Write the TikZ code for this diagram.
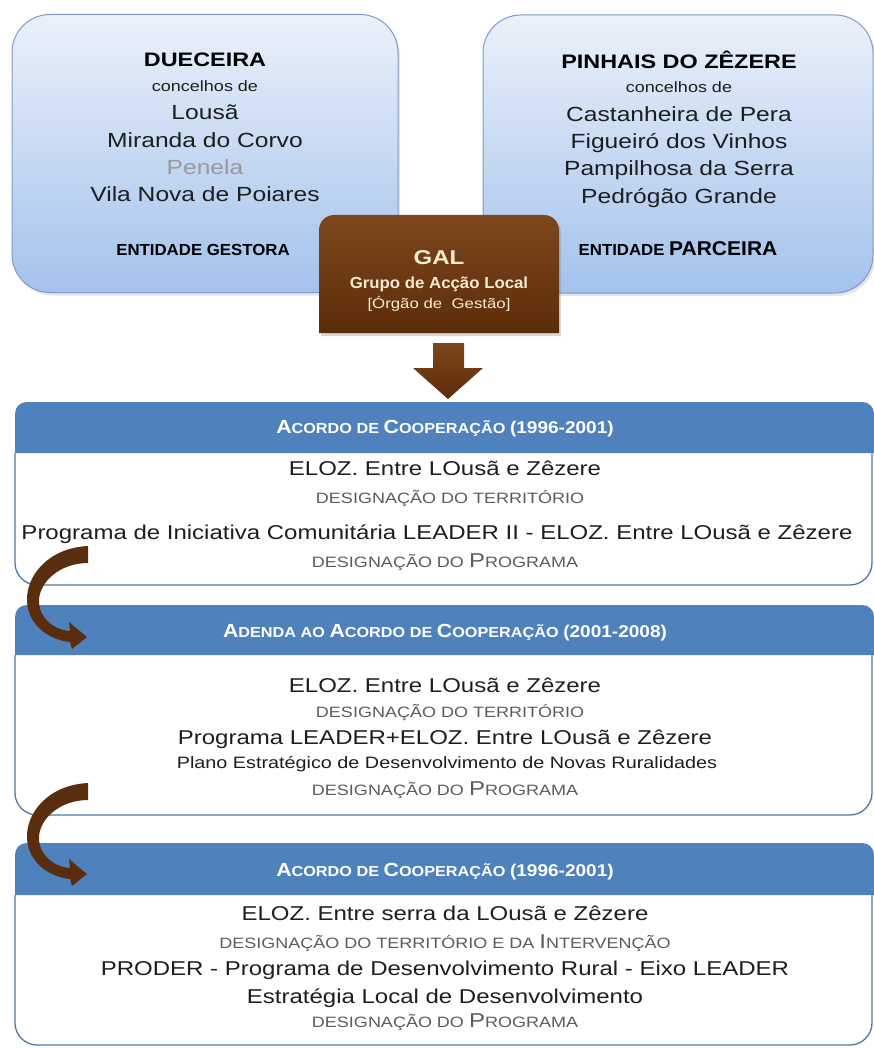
\documentclass[tikz,border=0pt]{standalone}
\usepackage{fontspec}
\setmainfont{Liberation Sans}
\newfontfamily\wide[FakeStretch=1.2]{Liberation Sans}
\newfontfamily\hdr[FakeStretch=1.05]{Liberation Sans}
\newfontfamily\hdrw[FakeStretch=1.12]{Liberation Sans}
\usetikzlibrary{shadows}
\definecolor{bandblue}{HTML}{4F81BD}
\definecolor{bodyline}{HTML}{4E78A8}
\definecolor{boxline}{HTML}{7F9DC4}
\definecolor{boxtop}{HTML}{EBF1FA}
\definecolor{boxbot}{HTML}{A3C2EC}
\definecolor{galtop}{HTML}{7E471D}
\definecolor{galbot}{HTML}{5C2C0A}
\definecolor{galtext}{HTML}{F6ECD2}
\definecolor{arrbrown}{HTML}{5A2D0E}
\definecolor{maintext}{HTML}{1E1E1E}
\definecolor{graytext}{HTML}{5C5C5C}
\definecolor{lighttext}{HTML}{9A9A9A}
\newcommand\fs[2]{{\fontsize{#1}{#1}\selectfont #2}}
\newcommand\hB[1]{\fs{19}{#1}}
\newcommand\hS[1]{\fs{14.5}{#1}}
\newcommand\gB[1]{\fs{20}{#1}}
\newcommand\gS[1]{\fs{15}{#1}}
\newcommand\bandshape[3]{%
  \path[fill=white,draw=bodyline,line width=1.3pt] (15,#2) -- (15,#3-22) .. controls (15,#3-10) and (25,#3) .. (37,#3) -- (850,#3) .. controls (862,#3) and (872,#3-10) .. (872,#3-22) -- (872,#2);
  \fill[bandblue] (15,#2) -- (15,#1+12) .. controls (15,#1+5) and (20,#1) .. (27,#1) -- (862,#1) .. controls (869,#1) and (874,#1+5) .. (874,#1+12) -- (874,#2) -- cycle;}
\begin{document}
\begin{tikzpicture}[x=1pt,y=-1pt,
  txt/.style={anchor=base,inner sep=0pt,font=\wide,text=maintext},
  gtxt/.style={anchor=base,inner sep=0pt,font=\wide,text=graytext},
  htxt/.style={anchor=base,inner sep=0pt,font=\hdrw\bfseries,text=white},
  topbox/.style={draw=boxline,line width=1pt,rounded corners=38pt,top color=boxtop,bottom color=boxbot,
     drop shadow={shadow xshift=2pt,shadow yshift=-3pt,opacity=0.2}},
  curvarrow/.pic={\fill[arrbrown] (0,-8) .. controls (-40,-6) and (-62,22) .. (-61,47) .. controls (-60,72) and (-38,86) .. (-18,88) -- (-16,95) -- (-1,83) -- (-19,68) -- (-18,77) .. controls (-34,76) and (-49,64) .. (-49,47) .. controls (-49,28) and (-28,9) .. (0,9) -- cycle;}
]
\useasboundingbox (0,0) rectangle (874,1048);
\fill[white] (0,0) rectangle (874,1048);

% top boxes
\node[topbox,minimum width=386pt,minimum height=278pt,inner sep=0pt] (dbox) at (205,153.5) {};
\node[topbox,minimum width=390pt,minimum height=278pt,inner sep=0pt] (pbox) at (678,154) {};

\node[txt,font=\wide\bfseries,text=black] (d1) at (205,67) {\fs{19.5}{DUECEIRA}};
\node[txt] (d2) at (205,92) {\fs{15}{concelhos de}};
\node[txt] (d3) at (205,120) {\fs{20.5}{Lousã}};
\node[txt] (d4) at (205,148) {\fs{20.5}{Miranda do Corvo}};
\node[txt,text=lighttext] (d5) at (205,175) {\fs{20.5}{Penela}};
\node[txt] (d6) at (205,202) {\fs{20.5}{Vila Nova de Poiares}};
\node[txt,font=\hdr\bfseries,text=black] (d7) at (203,256) {\fs{16}{ENTIDADE GESTORA}};

\node[txt,font=\wide\bfseries,text=black] (p1) at (679,69) {\fs{19.5}{PINHAIS DO ZÊZERE}};
\node[txt] (p2) at (679,93) {\fs{15}{concelhos de}};
\node[txt] (p3) at (679,122) {\fs{20.5}{Castanheira de Pera}};
\node[txt] (p4) at (679,149) {\fs{20.5}{Figueiró dos Vinhos}};
\node[txt] (p5) at (679,176) {\fs{20.5}{Pampilhosa da Serra}};
\node[txt] (p6) at (679,204) {\fs{20.5}{Pedrógão Grande}};
\node[txt,font=\hdr\bfseries,text=black] (p7) at (678,256) {\fs{16}{ENTIDADE }\fs{20}{PARCEIRA}};

% GAL box
\path[top color=galtop,bottom color=galbot,drop shadow={shadow xshift=2pt,shadow yshift=-3pt,opacity=0.3}]
  (319,333) -- (319,230) .. controls (319,221.7) and (325.7,215) .. (334,215) -- (544,215) .. controls (552.3,215) and (559,221.7) .. (559,230) -- (559,333) -- cycle;
\node[txt,font=\wide\bfseries,text=galtext] (g1) at (439,265) {\fs{20}{GAL}};
\node[txt,font=\hdr\bfseries,text=galtext] (g2) at (439,288) {\fs{16}{Grupo de Acção Local}};
\node[txt,text=galtext] (g3) at (439,308) {\fs{14}{[Órgão de\ \ Gestão]}};

% down arrow
\coordinate (datop) at (448,343);
\coordinate (datip) at (448,399);
\path[top color=galtop,bottom color=galbot]
  ([xshift=-15pt]datop) -- ([xshift=16pt]datop) -- (464,368) -- (483,368) -- (datip) -- (413,368) -- (433,368) -- cycle;

% bands
\bandshape{402}{453}{585}
\bandshape{605}{655}{815}
\bandshape{843}{895}{1045}

% band 1
\node[htxt] (h1) at (445,433) {\hB{A}\hS{CORDO DE }\hB{C}\hS{OOPERAÇÃO }\fs{17}{(1996-2001)}};
\node[txt] (b1a) at (445,475) {\fs{20}{ELOZ. Entre LOusã e Zêzere}};
\node[gtxt] (b1b) at (450,503) {\gS{DESIGNAÇÃO DO TERRITÓRIO}};
\node[txt] (b1c) at (437,539) {\fs{20}{Programa de Iniciativa Comunitária LEADER II - ELOZ. Entre LOusã e Zêzere}};
\node[gtxt] (b1d) at (445,567) {\gS{DESIGNAÇÃO DO }\gB{P}\gS{ROGRAMA}};

% band 2
\node[htxt] (h2) at (445,637) {\hB{A}\hS{DENDA AO }\hB{A}\hS{CORDO DE }\hB{C}\hS{OOPERAÇÃO }\fs{17}{(2001-2008)}};
\node[txt] (b2a) at (445,692) {\fs{20}{ELOZ. Entre LOusã e Zêzere}};
\node[gtxt] (b2b) at (450,717) {\gS{DESIGNAÇÃO DO TERRITÓRIO}};
\node[txt] (b2c) at (445,744) {\fs{20}{Programa LEADER+ELOZ. Entre LOusã e Zêzere}};
\node[txt] (b2d) at (447,768) {\fs{16.5}{Plano Estratégico de Desenvolvimento de Novas Ruralidades}};
\node[gtxt] (b2e) at (445,795) {\gS{DESIGNAÇÃO DO }\gB{P}\gS{ROGRAMA}};

% band 3
\node[htxt] (h3) at (445,876) {\hB{A}\hS{CORDO DE }\hB{C}\hS{OOPERAÇÃO }\fs{17}{(1996-2001)}};
\node[txt] (b3a) at (445,920) {\fs{20}{ELOZ. Entre serra da LOusã e Zêzere}};
\node[gtxt] (b3b) at (445,948) {\gS{DESIGNAÇÃO DO TERRITÓRIO E DA }\gB{I}\gS{NTERVENÇÃO}};
\node[txt] (b3c) at (445,975) {\fs{20}{PRODER - Programa de Desenvolvimento Rural - Eixo LEADER}};
\node[txt] (b3d) at (445,1003) {\fs{20}{Estratégia Local de Desenvolvimento}};
\node[gtxt] (b3e) at (445,1027) {\gS{DESIGNAÇÃO DO }\gB{P}\gS{ROGRAMA}};

% curved arrows between bands
\coordinate (ca1) at (88,554);
\coordinate (ca2) at (88,791);
\pic at (ca1) {curvarrow};
\pic at (ca2) {curvarrow};
\end{tikzpicture}
\end{document}
